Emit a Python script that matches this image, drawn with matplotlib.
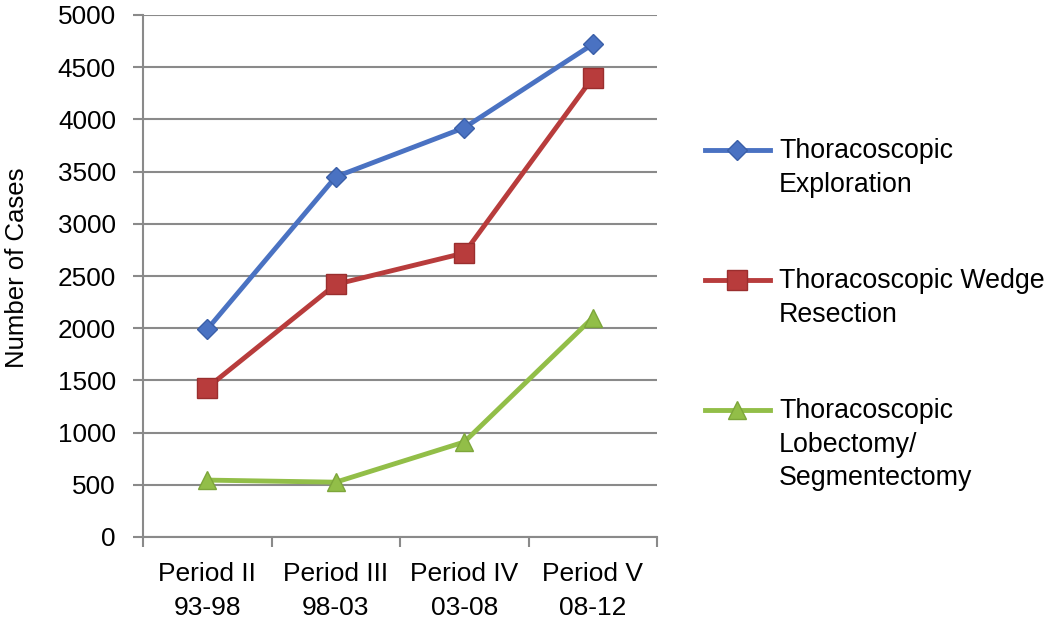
import matplotlib
matplotlib.use("Agg")
import matplotlib.pyplot as plt
from matplotlib.lines import Line2D

periods = ["Period II\n93-98", "Period III\n98-03", "Period IV\n03-08", "Period V\n08-12"]
exploration = [1990, 3450, 3920, 4720]
wedge = [1430, 2420, 2720, 4400]
lobectomy = [545, 525, 910, 2100]
series_names = ["Thoracoscopic\nExploration",
                "Thoracoscopic Wedge\nResection",
                "Thoracoscopic\nLobectomy/\nSegmentectomy"]
yticks = list(range(0, 5001, 500))

colors = ["#4A72C2", "#B83C3C", "#92BE48"]
edges = ["#3A5FA8", "#9A2E2E", "#7DA63A"]
markers = ["D", "s", "^"]
msizes = [10, 14, 13]

plt.rcParams['font.family'] = ['Liberation Sans', 'DejaVu Sans']
fig = plt.figure(figsize=(10.5, 6.3), dpi=100)
W, H = 1050, 630
ax = fig.add_axes([143 / W, (H - 537) / H, 514 / W, 522 / H])

x = list(range(len(periods)))
for vals, c, ec, m, ms in zip([exploration, wedge, lobectomy], colors, edges, markers, msizes):
    ax.plot(x, vals, color=c, lw=3.5, marker=m, ms=ms, mfc=c, mec=ec, mew=1,
            solid_capstyle='round', zorder=3, clip_on=False)

grid_c = "#8A8A8A"
ax.set_xlim(-0.5, len(periods) - 0.5)
ax.set_ylim(0, 5000)
ax.set_yticks(yticks)
ax.set_yticklabels([str(v) for v in yticks])
ax.yaxis.grid(True, color=grid_c, lw=1.5)
ax.set_axisbelow(True)
for s in ["top", "right"]:
    ax.spines[s].set_visible(False)
for s in ["left", "bottom"]:
    ax.spines[s].set_color(grid_c)
    ax.spines[s].set_linewidth(1.5)

ax.set_xticks(x)
ax.set_xticklabels(periods)
ax.set_xticks([i - 0.5 for i in range(len(periods) + 1)], minor=True)
ax.tick_params(axis='x', which='major', length=0, pad=18, labelsize=19)
ax.tick_params(axis='x', which='minor', length=7, width=1.5, color=grid_c, direction='out')
ax.tick_params(axis='y', which='major', length=7, width=1.5, color=grid_c, direction='out',
               pad=12.5, labelsize=18.8)
for lbl in ax.get_xticklabels():
    lbl.set_linespacing(1.55)

ax.set_ylabel("Number of Cases", fontsize=18.5)
ax.yaxis.set_label_coords(-0.222, 0.516)

# legend drawn manually at the right, one text per line
first_baselines = [158, 288, 418]
line_step = 33.5
for name, c, ec, m, ms, yb in zip(series_names, colors, edges, markers, msizes, first_baselines):
    ym = (H - (yb - 8)) / H
    fig.add_artist(Line2D([705 / W, 770 / W], [ym, ym], color=c, lw=3.5,
                          transform=fig.transFigure))
    fig.add_artist(Line2D([737 / W], [ym], color=c, marker=m, ms=ms, mfc=c, mec=ec, mew=1,
                          transform=fig.transFigure))
    for k, part in enumerate(name.split("\n")):
        fig.text(779 / W, (H - (yb + k * line_step)) / H, part, fontsize=19.3,
                 va='baseline', ha='left')

fig.savefig("out.png", dpi=100, facecolor="white")
